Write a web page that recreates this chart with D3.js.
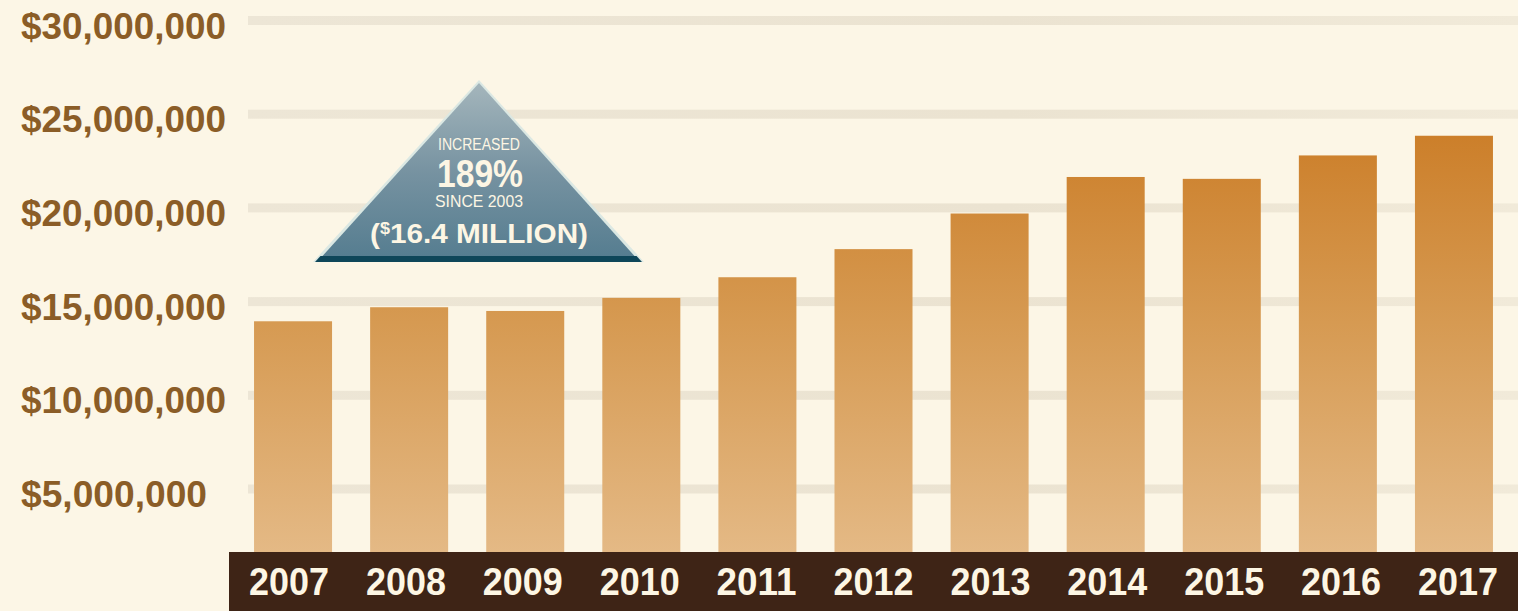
<!DOCTYPE html>
<html>
<head>
<meta charset="utf-8">
<script src="https://cdn.jsdelivr.net/npm/d3@7"></script>
<style>
  html, body { margin: 0; padding: 0; background: #fcf6e6; }
  svg { display: block; }
</style>
</head>
<body>
<div id="chart"></div>
<script>
const years = ["2007","2008","2009","2010","2011","2012","2013","2014","2015","2016","2017"];
const funding = [13950000, 14700000, 14500000, 15200000, 16300000, 17800000, 19700000, 21650000, 21550000, 22800000, 23850000];
const yTicks = [5000000, 10000000, 15000000, 20000000, 25000000, 30000000];
const calloutLines = ["INCREASED", "189%", "SINCE 2003"];
const calloutAmount = ["(", "$", "16.4 MILLION)"];

const W = 1518, H = 611;
const svg = d3.select("#chart").append("svg").attr("width", W).attr("height", H);

const defs = svg.append("defs");
const barGrad = defs.append("linearGradient").attr("id", "barGrad")
  .attr("gradientUnits", "userSpaceOnUse").attr("x1", 0).attr("x2", 0).attr("y1", 135).attr("y2", 552);
barGrad.append("stop").attr("offset", 0).attr("stop-color", "#cc7f2a");
barGrad.append("stop").attr("offset", 0.45).attr("stop-color", "#d69a52");
barGrad.append("stop").attr("offset", 1).attr("stop-color", "#e4b985");

const triGrad = defs.append("linearGradient").attr("id", "triGrad")
  .attr("x1", 0).attr("x2", 0).attr("y1", 0).attr("y2", 1);
triGrad.append("stop").attr("offset", 0).attr("stop-color", "#a0b2b9");
triGrad.append("stop").attr("offset", 0.5).attr("stop-color", "#6f8c9c");
triGrad.append("stop").attr("offset", 1).attr("stop-color", "#4a7489");

const gridGrad = defs.append("linearGradient").attr("id", "gridGrad")
  .attr("gradientUnits", "userSpaceOnUse").attr("x1", 240).attr("x2", 1518).attr("y1", 0).attr("y2", 0);
gridGrad.append("stop").attr("offset", 0).attr("stop-color", "#ede6d6");
gridGrad.append("stop").attr("offset", 0.6).attr("stop-color", "#ebe3d1");
gridGrad.append("stop").attr("offset", 1).attr("stop-color", "#f1ead9");

svg.append("rect").attr("width", W).attr("height", H).attr("fill", "#fcf6e6");

const y = d3.scaleLinear().domain([0, 30000000]).range([582.7, 20.5]);
const x = d3.scaleBand().domain(years).range([235, 1512]).paddingInner(0.328).paddingOuter(0.164);
const xLabel = d3.scalePoint().domain(years).range([289, 1458]);

// gridlines
svg.append("g").selectAll("rect").data(yTicks).join("rect")
  .attr("x", 248).attr("width", W - 248)
  .attr("y", d => y(d) - 4.5).attr("height", 9)
  .attr("fill", "url(#gridGrad)");

// y labels
const fmt = d3.format("$,");
svg.append("g").selectAll("text").data(yTicks).join("text")
  .attr("x", 21).attr("y", d => y(d) + 18)
  .attr("font-family", "'Liberation Sans Narrow', 'Arial Narrow', sans-serif")
  .attr("font-weight", "bold").attr("font-size", 36)
  .attr("fill", "#8b5d27")
  .attr("textLength", d => fmt(d).length === 11 ? 205 : 186)
  .attr("lengthAdjust", "spacingAndGlyphs")
  .text(d => fmt(d));

// bars
svg.append("g").selectAll("rect").data(funding).join("rect")
  .attr("x", (d, i) => x(years[i]))
  .attr("width", x.bandwidth())
  .attr("y", d => y(d))
  .attr("height", d => 552 - y(d))
  .attr("fill", "url(#barGrad)");

// bottom band
svg.append("rect").attr("x", 229).attr("y", 552).attr("width", W - 229).attr("height", H - 552).attr("fill", "#3e2416");

svg.append("g").selectAll("text").data(years).join("text")
  .attr("x", d => xLabel(d))
  .attr("y", 595)
  .attr("text-anchor", "middle")
  .attr("font-family", "'Liberation Sans Narrow', 'Arial Narrow', sans-serif")
  .attr("font-weight", "bold").attr("font-size", 39)
  .attr("fill", "#fdf6e4")
  .attr("textLength", 80).attr("lengthAdjust", "spacingAndGlyphs")
  .text(d => d);

// callout triangle
const tri = svg.append("g");
const apex = [479, 80], bl = [313, 262], br = [644, 262];
tri.append("path")
  .attr("d", `M${apex[0]},${apex[1]} L${br[0]},${br[1]} L${bl[0]},${bl[1]} Z`)
  .attr("fill", "#d9e7e3").attr("opacity", 0.95);
tri.append("path")
  .attr("d", `M${apex[0]},${apex[1] + 3} L${br[0] - 5},${br[1] - 1} L${bl[0] + 5},${bl[1] - 1} Z`)
  .attr("fill", "url(#triGrad)").attr("opacity", 0.93);
// dark base strip
const t = (262 - 256) / (262 - 80);
tri.append("path")
  .attr("d", `M${bl[0] + 2},${262} L${br[0] - 2},${262} L${br[0] - 2 - (br[0] - apex[0]) * t},256 L${bl[0] + 2 + (apex[0] - bl[0]) * t},256 Z`)
  .attr("fill", "#0e4659");

const cond = "'Liberation Sans Narrow', 'Arial Narrow', sans-serif";
tri.append("text").attr("x", 479).attr("y", 150).attr("text-anchor", "middle")
  .attr("font-family", cond).attr("font-weight", "normal").attr("font-size", 16)
  .attr("fill", "#fdf6e4").attr("textLength", 82).attr("lengthAdjust", "spacingAndGlyphs")
  .text(calloutLines[0]);
tri.append("text").attr("x", 480).attr("y", 187)
  .attr("text-anchor", "middle")
  .attr("font-family", cond).attr("font-weight", "bold").attr("font-size", 38)
  .attr("fill", "#fdf6e4").attr("textLength", 86).attr("lengthAdjust", "spacingAndGlyphs")
  .text(calloutLines[1]);
tri.append("text").attr("x", 479).attr("y", 207).attr("text-anchor", "middle")
  .attr("font-family", cond).attr("font-weight", "normal").attr("font-size", 17)
  .attr("fill", "#fdf6e4").attr("textLength", 88).attr("lengthAdjust", "spacingAndGlyphs")
  .text(calloutLines[2]);
const amt = tri.append("text").attr("x", 479).attr("y", 243).attr("text-anchor", "middle")
  .attr("font-family", "'Liberation Sans', Arial, sans-serif").attr("font-weight", "bold").attr("font-size", 28)
  .attr("fill", "#fdf6e4").attr("textLength", 218).attr("lengthAdjust", "spacingAndGlyphs");
amt.append("tspan").text(calloutAmount[0]);
amt.append("tspan").attr("font-size", 17).attr("dy", -9).text(calloutAmount[1]);
amt.append("tspan").attr("dy", 9).text(calloutAmount[2]);
</script>
</body>
</html>
